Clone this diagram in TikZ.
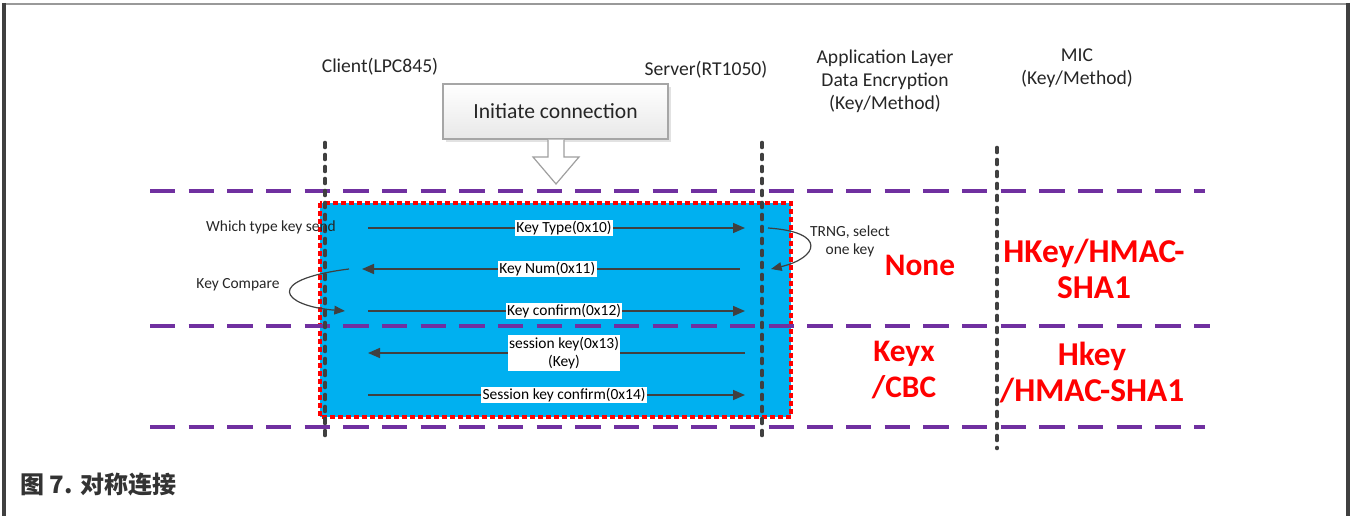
\documentclass[tikz,border=0pt]{standalone}
\usepackage{fontspec}
\setmainfont{Carlito}
\newfontfamily\cjk{Noto Sans CJK SC}
\usetikzlibrary{arrows.meta,shadows}
\definecolor{lifegray}{HTML}{404040}
\definecolor{bandpurple}{HTML}{7030A0}
\definecolor{zoneblue}{HTML}{00B0F0}
\definecolor{msgred}{HTML}{FF0000}
\definecolor{captiongray}{HTML}{333333}
\tikzset{
  x=0.75pt, y=-0.75pt,
  lifeline/.style={lifegray, line width=3.5, dash pattern=on 3 off 6, line cap=round},
  band/.style={bandpurple, line width=2.6, dash pattern=on 19 off 10},
  msg/.style={lifegray, line width=1.2, -{Triangle[length=9pt,width=7.5pt]}},
  curvearrow/.style={lifegray, line width=0.9, -{Triangle[length=8pt,width=6.5pt]}},
  lbl/.style={fill=white, inner sep=1pt, font=\fontsize{11.6}{13}\selectfont, text=black},
  note/.style={font=\fontsize{11.6}{13.5}\selectfont, text=black!85, align=center},
  head/.style={font=\fontsize{14.7}{17.3}\selectfont, text=black!85, align=center},
  result/.style={font=\bfseries\fontsize{23.5}{27}\selectfont, text=msgred, align=center},
  micresult/.style={result, font=\bfseries\fontsize{25}{27}\selectfont},
}
\begin{document}
\begin{tikzpicture}
\useasboundingbox (0,0) rectangle (1352,516);
% page frame
\draw[gray!80, line width=2] (3,4) -- (1349,4);
\draw[lifegray, line width=2.4] (4,3) -- (4,516);
\draw[lifegray, line width=2.4] (1348,3) -- (1348,516);

% column headings
\node[head] (client) at (380,67) {Client(LPC845)};
\node[head] (server) at (706,70) {Server(RT1050)};
\node[head] (app) at (885,81) {Application Layer\\Data Encryption\\(Key/Method)};
\node[head] (mic) at (1077,68.5) {MIC\\(Key/Method)};

% handshake zone
\fill[zoneblue] (320,203) rectangle (791,417);
\draw[msgred, line width=2.4, dash pattern=on 3.5 off 2.5] (320,203) rectangle (791,417);

% phase separators
\draw[band] (150,191) -- (1205,191);
\draw[band] (150,326) -- (1210,326);
\draw[band] (150,427) -- (1205,427);

% lifelines
\coordinate (cTop) at (325,143);
\coordinate (cBot) at (325,442);
\coordinate (sTop) at (762,143);
\coordinate (sBot) at (762,442);
\coordinate (mTop) at (997,148);
\coordinate (mBot) at (997,448);
\draw[lifeline] (cTop) -- (cBot);
\draw[lifeline] (sTop) -- (sBot);
\draw[lifeline] (mTop) -- (mBot);

% connection start box and hollow arrow
\node[draw=gray!70, line width=0.8, top color=white, bottom color=gray!18,
      minimum width=225*0.75pt, minimum height=55*0.75pt,
      drop shadow={shadow xshift=2.5pt, shadow yshift=-2.5pt, fill=gray!45},
      font=\fontsize{16.2}{19}\selectfont, text=black!85] (init) at (555.5,111.5) {Initiate connection};
\draw[gray!75, fill=white, line width=0.9, line join=miter]
  (init.south -| 548,0) -- (548,157) -- (533,157) -- (556,184) -- (579,157) -- (564,157) -- (init.south -| 564,0);

% messages
\coordinate (a1) at (368,228); \coordinate (b1) at (745,228);
\coordinate (a2) at (740,269); \coordinate (b2) at (362,269);
\coordinate (a3) at (368,311); \coordinate (b3) at (745,311);
\coordinate (a4) at (745,353); \coordinate (b4) at (368,353);
\coordinate (a5) at (368,395); \coordinate (b5) at (745,395);
\draw[msg] (a1) -- node[lbl, pos=0.52] (m1) {Key Type(0x10)} (b1);
\draw[msg] (a2) -- node[lbl, pos=0.51] (m2) {Key Num(0x11)} (b2);
\draw[msg] (a3) -- node[lbl, pos=0.52] (m3) {Key confirm(0x12)} (b3);
\draw[msg] (a4) -- node[lbl, pos=0.48, align=center, font=\fontsize{11.6}{14}\selectfont] (m4) {session key(0x13)\\(Key)} (b4);
\draw[msg] (a5) -- node[lbl, pos=0.52] (m5) {Session key confirm(0x14)} (b5);

% side notes
\node[note] (whichtype) at (271,227) {Which type key send};
\node[note] (keycmp) at (238,285) {Key Compare};
\node[note] (trng) at (850,241) {TRNG, select\\one key};
\coordinate (k1) at (349,269); \coordinate (k2) at (345,311);
\draw[curvearrow] (k1) .. controls (262,280) and (282,306) .. (k2);
\coordinate (t1) at (768,228); \coordinate (t2) at (771,269);
\draw[curvearrow] (t1) .. controls (828,232) and (818,258) .. (t2);

% per-phase keys and methods
\node[result] (none) at (920,265) {None};
\node[micresult] (hmac1) at (1094,269) {HKey/HMAC-\\SHA1};
\node[result] (cbc) at (904,370) {Keyx\\/CBC};
\node[micresult] (hmac2) at (1092,372.5) {Hkey\\/HMAC-SHA1};

% caption
\node[anchor=west, font=\cjk\bfseries\fontsize{18}{20}\selectfont, text=captiongray, inner sep=0pt] (cap) at (20,485) {图 7. 对称连接};
\end{tikzpicture}
\end{document}
